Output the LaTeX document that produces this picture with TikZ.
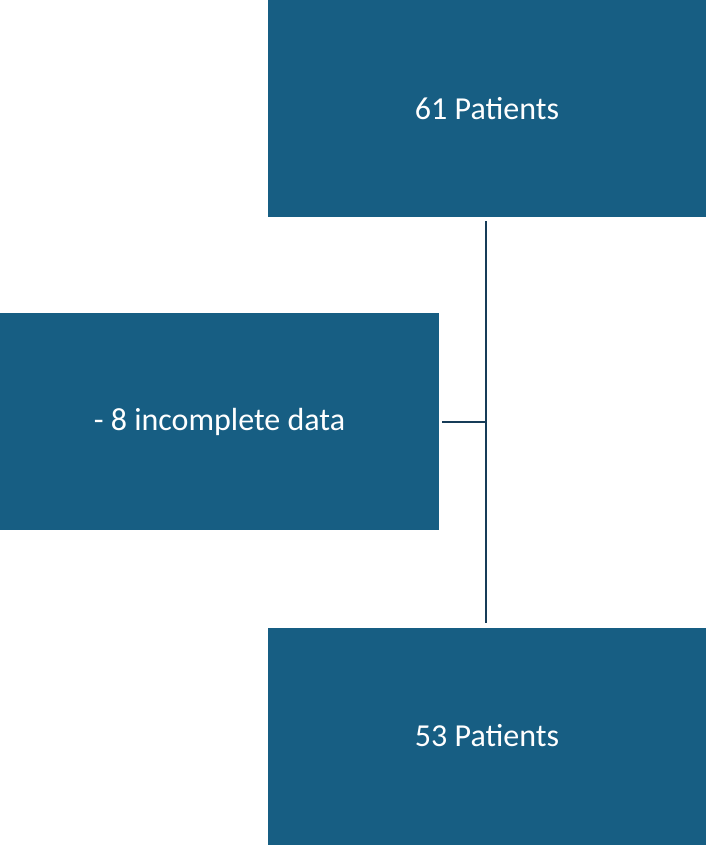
\documentclass[tikz,border=0pt]{standalone}
\usepackage{fontspec}
\setmainfont{Carlito}
\definecolor{boxblue}{RGB}{23, 94, 131}
\definecolor{linedark}{RGB}{22, 60, 88}

\begin{document}
\begin{tikzpicture}[x=1pt, y=-1pt, thick]
  \tikzset{flowbox/.style={fill=boxblue, text=white, minimum width=438pt, minimum height=217pt, inner sep=0pt, font=\fontsize{32}{38}\selectfont}}
  \useasboundingbox (0, 0) rectangle (706, 845);

  \node[flowbox] (start) at (487, 108.5) { 61 Patients };
  \node[flowbox, minimum width=439pt] (excl) at (219.5, 421.5) { - 8 incomplete data };
  \node[flowbox] (final) at (487, 736) { 53 Patients };

  \coordinate (join) at (486, 422);
  \draw [color=linedark, line width=2pt] ([xshift=-1pt, yshift=-4pt]start.south) -- ([xshift=-1pt, yshift=4pt]final.north);
  \draw [color=linedark, line width=2pt] ([xshift=3pt]excl.east |- join) -- (join);
\end{tikzpicture}
\end{document}
